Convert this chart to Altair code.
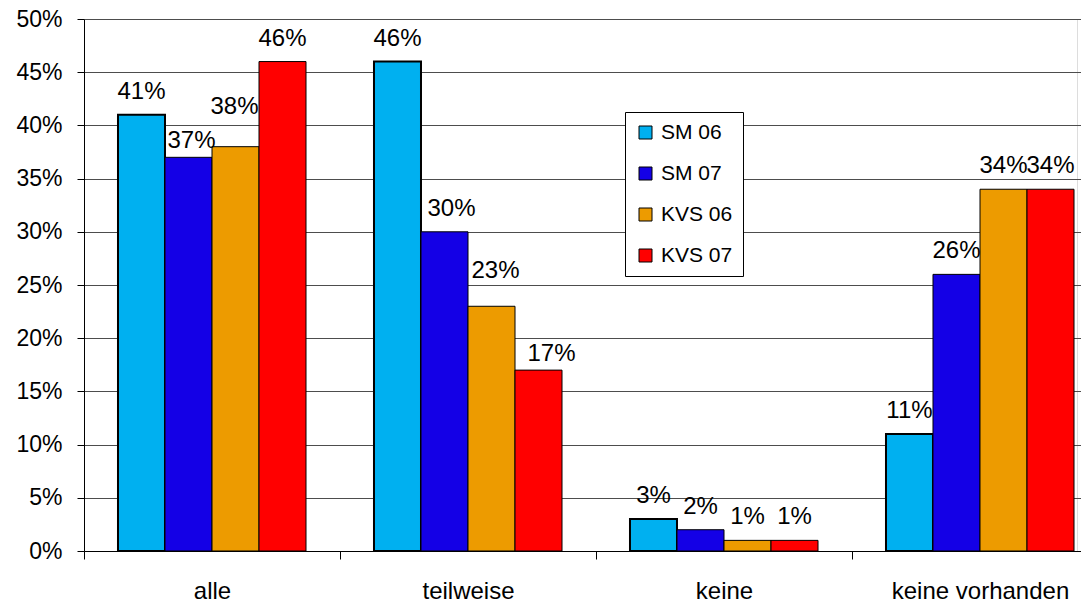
import altair as alt
import pandas as pd

# Shares per category and survey series (percent)
categories = ["alle", "teilweise", "keine", "keine vorhanden"]
series = ["SM 06", "SM 07", "KVS 06", "KVS 07"]
sm06 = [41, 46, 3, 11]
sm07 = [37, 30, 2, 26]
kvs06 = [38, 23, 1, 34]
kvs07 = [46, 17, 1, 34]
colors = ["#00B0F0", "#1400E6", "#ED9B00", "#FF0000"]

# pixel nudges (dx, dy) for value labels that would otherwise collide
label_nudges = {
    ("alle", "SM 07"): (3, 7),
    ("alle", "KVS 06"): (-1, -17),
    ("teilweise", "SM 07"): (7, 0),
    ("teilweise", "KVS 06"): (4, -12),
    ("teilweise", "KVS 07"): (13, 7),
}

FONT = "Liberation Sans"

rows = []
for s, vals in zip(series, [sm06, sm07, kvs06, kvs07]):
    for c, v in zip(categories, vals):
        dx, dy = label_nudges.get((c, s), (0, 0))
        rows.append({"Kategorie": c, "Serie": s, "Anteil": v / 100,
                     "Label": f"{v}%", "dx": dx, "dy": dy})
df = pd.DataFrame(rows)

x_enc = alt.X(
    "Kategorie:N", sort=categories, title=None,
    scale=alt.Scale(range=[0, 1024], paddingInner=0, paddingOuter=0),
    axis=alt.Axis(tickBand="extent", labelAngle=0, tickSize=8, tickColor="black",
                  domainColor="black", labelFontSize=24, labelFont=FONT,
                  labelColor="black", labelPadding=20),
)
xoff_enc = alt.XOffset("Serie:N", sort=series,
                       scale=alt.Scale(paddingInner=0, paddingOuter=0.723))
y_enc = alt.Y(
    "Anteil:Q", title=None,
    scale=alt.Scale(domain=[0, 0.5], nice=False),
    axis=alt.Axis(format=".0%", values=[i / 100 for i in range(0, 55, 5)],
                  tickSize=7, tickColor="black", domainColor="black",
                  labelPadding=15, labelFontSize=23, labelFont=FONT,
                  labelColor="black", grid=True, gridColor="#4d4d4d"),
)

bars = alt.Chart(df).mark_bar(stroke="black").encode(
    x=x_enc,
    xOffset=xoff_enc,
    y=y_enc,
    color=alt.Color(
        "Serie:N", sort=series,
        scale=alt.Scale(domain=series, range=colors),
        legend=alt.Legend(title=None, orient="none", legendX=541, legendY=93,
                          fillColor="white", strokeColor="black", padding=10,
                          symbolType="square", symbolSize=169,
                          symbolStrokeColor="black", symbolStrokeWidth=1,
                          labelFontSize=21, labelFont=FONT, labelColor="black",
                          rowPadding=19, labelOffset=5),
    ),
    strokeWidth=alt.condition(alt.datum.Serie == "SM 06", alt.value(2), alt.value(1)),
)

layers = [bars]
for (dx, dy), sub in df.groupby(["dx", "dy"]):
    layers.append(
        alt.Chart(sub).mark_text(
            baseline="alphabetic", align="center", dx=int(dx), dy=int(-16 + dy),
            fontSize=24, font=FONT, color="black",
        ).encode(x=x_enc, xOffset=xoff_enc, y=y_enc, text="Label:N")
    )

chart = alt.layer(*layers).properties(
    width=993, height=532,
    autosize=alt.AutoSizeParams(type="none"),
    padding={"left": 84, "top": 19, "right": 4, "bottom": 49},
).configure_view(stroke=None).configure(background="white")

chart.save("out.html", embed_options={"renderer": "svg", "actions": False})
